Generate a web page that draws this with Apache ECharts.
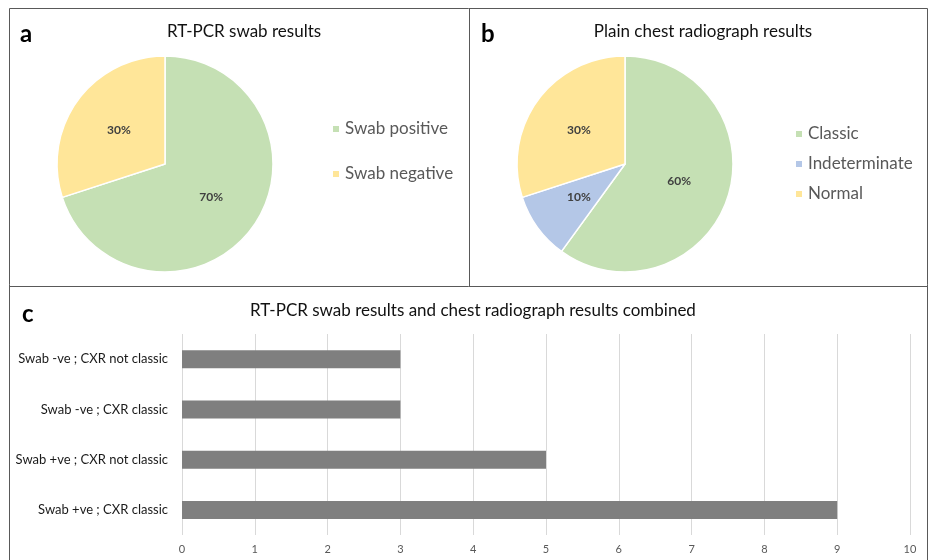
<!DOCTYPE html>
<html>
<head>
<meta charset="utf-8">
<script src="https://cdn.jsdelivr.net/npm/echarts@6/dist/echarts.min.js"></script>
<style>
html,body{margin:0;padding:0;background:#fff;}
#chart{width:929px;height:560px;}
</style>
</head>
<body>
<div id="chart"></div>
<script>
// ---- Data ----
const swabNames = ['Swab positive', 'Swab negative'];
const swabValues = [70, 30];
const cxrNames = ['Classic', 'Indeterminate', 'Normal'];
const cxrValues = [60, 10, 30];
const comboCategories = ['Swab -ve ; CXR not classic', 'Swab -ve ; CXR classic', 'Swab +ve ; CXR not classic', 'Swab +ve ; CXR classic'];
const comboValues = [3, 3, 5, 9];
const xTicks = [0, 1, 2, 3, 4, 5, 6, 7, 8, 9, 10];

const GREEN = '#C5E0B4', YELLOW = '#FFE699', BLUE = '#B4C7E7';
const FONT = 'Lato, "Open Sans", sans-serif';

const chart = echarts.init(document.getElementById('chart'), null, {renderer: 'canvas'});

const pieLabel = {
  show: true, position: 'inside', formatter: '{c}%',
  fontFamily: FONT, fontSize: 12, fontWeight: 'bold', color: '#404040'
};

const option = {
  backgroundColor: '#fff',
  animation: false,
  textStyle: {fontFamily: FONT},
  title: [
    {text: 'RT-PCR swab results', left: 239, top: 18, textAlign: 'center',
     textStyle: {fontFamily: FONT, fontSize: 17, fontWeight: 'normal', color: '#111'}},
    {text: 'Plain chest radiograph results', left: 698, top: 18, textAlign: 'center',
     textStyle: {fontFamily: FONT, fontSize: 17, fontWeight: 'normal', color: '#111'}},
    {text: 'RT-PCR swab results and chest radiograph results combined', left: 468, top: 297, textAlign: 'center',
     textStyle: {fontFamily: FONT, fontSize: 17, fontWeight: 'normal', color: '#111'}},
    {text: 'a', left: 15, top: 17, textStyle: {fontFamily: FONT, fontSize: 24, fontWeight: 'bold', color: '#000'}},
    {text: 'b', left: 476, top: 17, textStyle: {fontFamily: FONT, fontSize: 24, fontWeight: 'bold', color: '#000'}},
    {text: 'c', left: 17, top: 297, textStyle: {fontFamily: FONT, fontSize: 24, fontWeight: 'bold', color: '#000'}}
  ],
  legend: [
    {data: swabNames, orient: 'vertical', left: 326, top: 114, icon: 'rect',
     itemWidth: 8, itemHeight: 8, itemGap: 25,
     textStyle: {fontFamily: FONT, fontSize: 17, color: '#595959', lineHeight: 20}},
    {data: cxrNames, orient: 'vertical', left: 789, top: 119, icon: 'rect',
     itemWidth: 8, itemHeight: 8, itemGap: 10,
     textStyle: {fontFamily: FONT, fontSize: 17, color: '#595959', lineHeight: 20}}
  ],
  grid: {left: 182, right: 19, top: 334, bottom: 25, containLabel: false},
  xAxis: {
    type: 'value', min: 0, max: 10, interval: 1,
    axisLine: {show: false}, axisTick: {show: false},
    axisLabel: {fontFamily: FONT, fontSize: 11, color: '#595959', margin: 9},
    splitLine: {show: true, lineStyle: {color: '#d9d9d9', width: 1}}
  },
  yAxis: {
    type: 'category', data: comboCategories, inverse: true,
    axisLine: {show: false}, axisTick: {show: false},
    axisLabel: {fontFamily: FONT, fontSize: 13, color: '#1a1a1a', margin: 14}
  },
  series: [
    {type: 'pie', center: [165, 164], radius: 108, startAngle: 90, clockwise: true,
     label: pieLabel, labelLine: {show: false},
     itemStyle: {borderColor: '#fff', borderWidth: 1.5},
     emphasis: {disabled: true},
     data: swabNames.map((n, i) => ({name: n, value: swabValues[i], itemStyle: {color: [GREEN, YELLOW][i]}}))},
    {type: 'pie', center: [625, 164], radius: 108, startAngle: 90, clockwise: true,
     label: pieLabel, labelLine: {show: false},
     itemStyle: {borderColor: '#fff', borderWidth: 1.5},
     emphasis: {disabled: true},
     data: cxrNames.map((n, i) => ({name: n, value: cxrValues[i], itemStyle: {color: [GREEN, BLUE, YELLOW][i]}}))},
    {type: 'bar', data: comboValues, barWidth: 18,
     itemStyle: {color: '#7F7F7F'}, emphasis: {disabled: true}}
  ],
  graphic: [
    {type: 'rect', shape: {x: 9.5, y: 8.5, width: 918, height: 600}, style: {fill: null, stroke: '#595959', lineWidth: 1}, silent: true},
    {type: 'line', shape: {x1: 9.5, y1: 286.5, x2: 928, y2: 286.5}, style: {stroke: '#595959', lineWidth: 1}, silent: true},
    {type: 'line', shape: {x1: 469.5, y1: 8.5, x2: 469.5, y2: 286.5}, style: {stroke: '#595959', lineWidth: 1}, silent: true}
  ]
};
chart.setOption(option);
</script>
</body>
</html>
